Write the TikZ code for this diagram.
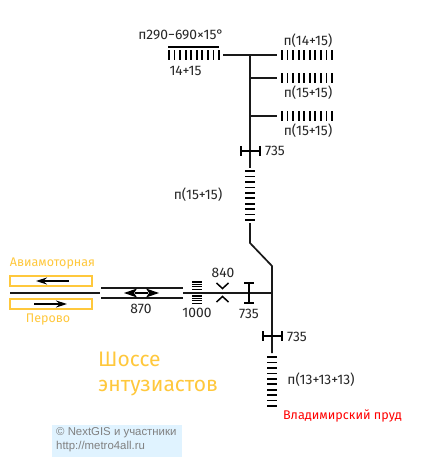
\documentclass[tikz,border=0pt]{standalone}
\usepackage{fontspec}
\setmainfont{Fira Sans}
\newfontfamily\arialf{Liberation Sans}
\usetikzlibrary{arrows.meta}
\definecolor{stationor}{HTML}{FFC83C}
\tikzset{
 trk/.style={line width=1.7pt,black!90},
 thin trk/.style={line width=1.5pt,black!90},
 lbl/.style={inner sep=0pt,text=black!85,font=\fontsize{13.8}{16}\selectfont},
 orlbl/.style={inner sep=0pt,text=stationor,font=\fontsize{12.5}{14}\selectfont},
 big/.style={inner sep=0pt,text=stationor,anchor=west,font=\fontsize{21}{24}\selectfont},
 plat/.style={draw=stationor,line width=1.3pt,minimum width=82pt,minimum height=10pt,inner sep=0pt},
 wm/.style={inner sep=0pt,anchor=west,text=black!50,font=\arialf\fontsize{11.4}{13}\selectfont},
 arr/.style={line width=1.3pt,-{Stealth[length=11pt,width=7pt]}}
}
\newcommand{\vticks}[2]{\foreach \i in {0,...,9}{\draw[line width=1.8pt] ({#1+5.55*\i},#2-5) -- ({#1+5.55*\i},#2+5);}}
\newcommand{\hticks}[2]{\foreach \i in {0,...,9}{\draw[line width=1.7pt] (#1-5,{#2+5.45*\i}) -- (#1+5,{#2+5.45*\i});}}
\begin{document}
\begin{tikzpicture}[x=1pt,y=-1pt]
\useasboundingbox (0,0) rectangle (434,465);
\fill[white] (0,0) rectangle (434,465);
% coordinates
\coordinate (hL) at (223,55); \coordinate (top) at (250,55); \coordinate (hR) at (277,55);
\coordinate (b2) at (250,78); \coordinate (b2R) at (277,78);
\coordinate (b3) at (250,116); \coordinate (b3R) at (277,116);
\coordinate (vEnd) at (250,168);
\coordinate (v2a) at (250,223); \coordinate (v2b) at (250,243); \coordinate (v2c) at (272,266);
\coordinate (jn) at (272,293); \coordinate (v3e) at (272,353);
\coordinate (mL) at (183,293);
\coordinate (pL1) at (101,288); \coordinate (pR1) at (183,288);
\coordinate (pL2) at (101,298); \coordinate (pR2) at (183,298);
\coordinate (lL) at (10,293); \coordinate (lR) at (100,293);
% tracks
\draw[trk] (hL) -- (hR);
\draw[trk] (top) -- (vEnd);
\draw[thin trk] (b2) -- (b2R);
\draw[thin trk] (b3) -- (b3R);
\draw[trk] (v2a) -- (v2b) -- (v2c) -- (jn) -- (v3e);
\draw[trk] (mL) -- (jn);
\draw[trk] (pL1) -- (pR1);
\draw[trk] (pL2) -- (pR2);
\draw[trk] (lL) -- (lR);
% platforms
\vticks{169}{55.5}
\draw[line width=1.6pt] (168,47) -- (219,47);
\vticks{282}{55.5}
\vticks{282}{78.5}
\vticks{282}{116.5}
\hticks{250}{171}
\hticks{272}{357}
% 1000 ladder
\foreach \y in {282,284.4,286.8,289.2,296,298.4,300.8,303.2}{\draw[line width=1.2pt] (192,\y) -- (202,\y);}
% width marks
\draw[line width=1.4pt] (241,146) -- (241,156) (241,151) -- (260,151) (260,146) -- (260,156);
\draw[line width=1.4pt] (263,331) -- (263,341) (263,336) -- (282,336) (282,331) -- (282,341);
\draw[line width=1.4pt] (244,283) -- (254,283) (249,283) -- (249,303) (244,303) -- (254,303);
\draw[line width=1.5pt] (216.5,283) -- (222.5,288.5) -- (228.5,283);
\draw[line width=1.5pt] (216.5,302) -- (222.5,296.5) -- (228.5,302);
% platforms at left
\node[plat] (av) at (51,281) {};
\node[plat] (pe) at (51,304) {};
\coordinate (a1) at (69,281); \coordinate (a2) at (36,281);
\coordinate (b1) at (34,304); \coordinate (b2x) at (67,304);
\draw[arr] (a1) -- (a2);
\draw[arr] (b1) -- (b2x);
% double arrow
\coordinate (d1) at (124,293); \coordinate (d2) at (159,293);
\draw[line width=1.3pt] (135,293) -- (148,293);
\fill (d1) -- (137,288.5) -- (134,293) -- (137,297.5) -- cycle;
\fill (d2) -- (146,288.5) -- (149,293) -- (146,297.5) -- cycle;
% labels
\node[lbl] (t1) at (181,35) {п290−690×15°};
\node[lbl] (t2) at (185.5,70.5) {14+15};
\node[lbl] (t3) at (308,41) {п(14+15)};
\node[lbl] (t4) at (308,93) {п(15+15)};
\node[lbl] (t5) at (308,130.5) {п(15+15)};
\node[lbl] (t6) at (275,151) {735};
\node[lbl] (t7) at (198,195) {п(15+15)};
\node[lbl] (t8) at (223,273) {840};
\node[lbl] (t9) at (249,314) {735};
\node[lbl] (t10) at (197,313) {1000};
\node[lbl] (t11) at (141,309) {870};
\node[lbl] (t12) at (297,337) {735};
\node[lbl] (t13) at (321,380) {п(13+13+13)};
\node[inner sep=0pt,text=red,font=\fontsize{12.6}{14}\selectfont] (t14) at (342.5,416) {Владимирский пруд};
\node[orlbl] (t15) at (52.5,264) {Авиамоторная};
\node[orlbl] (t16) at (48,320) {Перово};
\node[big] (t17) at (98,359) {Шоссе};
\node[big] (t18) at (98,388) {энтузиастов};
% watermark
\fill[blue!40!cyan!12!white] (52,425) rectangle (182,457);
\node[wm] (w1) at (56,433) {© NextGIS и участники};
\node[wm] (w2) at (56,447) {http://metro4all.ru};
\end{tikzpicture}
\end{document}
